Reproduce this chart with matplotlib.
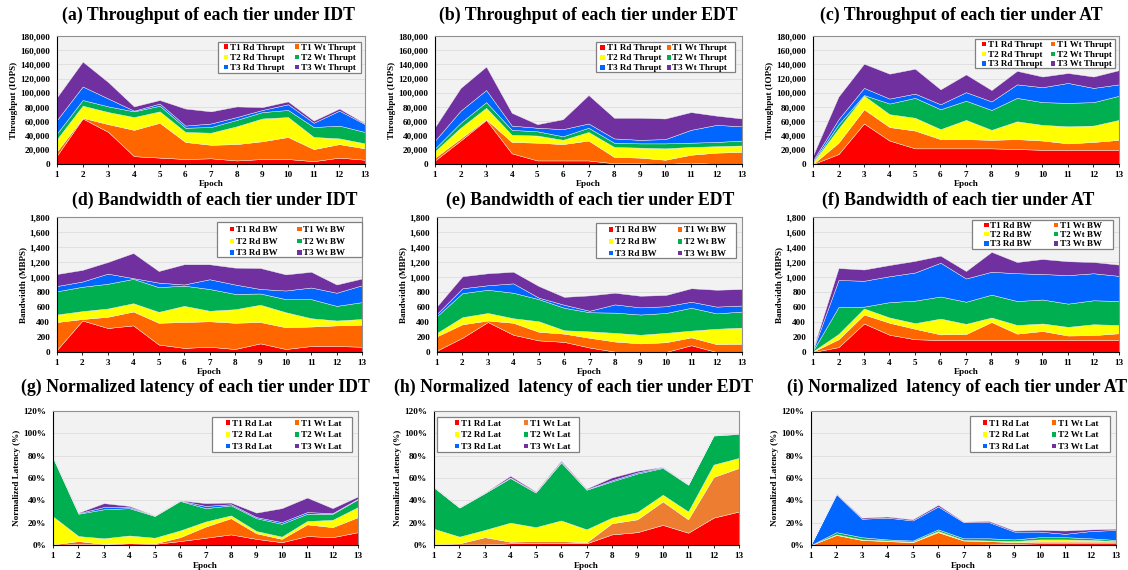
import matplotlib
matplotlib.use("Agg")
import matplotlib.pyplot as plt
import matplotlib.ticker as mticker
from matplotlib.patches import Rectangle
import numpy as np

epochs = list(range(1, 14))

# ---------------- (a) Throughput IDT (IOPS) ----------------
a_t1_rd = [12000, 64000, 45000, 11000, 9000, 7000, 8000, 5000, 7000, 7000, 4000, 9000, 6000]
a_t1_wt = [6000, 1000, 11000, 37000, 49000, 24000, 19000, 23000, 25000, 31000, 17000, 19000, 16000]
a_t2_rd = [17000, 17000, 17000, 18000, 16000, 14000, 17000, 25000, 32000, 28000, 17000, 8000, 7000]
a_t2_wt = [8000, 8000, 8000, 8000, 8000, 6000, 8000, 9000, 9000, 10000, 14000, 18000, 16000]
a_t3_rd = [19000, 19000, 11000, 1000, 3000, 3000, 5000, 4000, 3000, 8000, 6000, 21000, 11000]
a_t3_wt = [32000, 35000, 23000, 6000, 5000, 24000, 17000, 15000, 4000, 4000, 3000, 3000, 1000]

# ---------------- (b) Throughput EDT ----------------
b_t1_rd = [5000, 33000, 62000, 15000, 5000, 5000, 5000, 1000, 1000, 0, 2000, 0, 0]
b_t1_wt = [4000, 3000, 1000, 16000, 25000, 23000, 28000, 9000, 8000, 6000, 11000, 16000, 17000]
b_t2_rd = [9000, 15000, 16000, 10000, 10000, 6000, 12000, 14000, 14000, 16000, 11000, 9000, 9000]
b_t2_wt = [4000, 7000, 8000, 7000, 6000, 5000, 6000, 6000, 6000, 7000, 6000, 6000, 7000]
b_t3_rd = [11000, 17000, 17000, 6000, 5000, 10000, 6000, 6000, 5000, 6000, 18000, 24000, 20000]
b_t3_wt = [19000, 32000, 33000, 18000, 5000, 14000, 40000, 29000, 31000, 29000, 25000, 13000, 11000]

# ---------------- (c) Throughput AT ----------------
c_t1_rd = [0, 14000, 57000, 33000, 22000, 22000, 22000, 22000, 21000, 20000, 20000, 20000, 20000]
c_t1_wt = [0, 16000, 20000, 19000, 25000, 13000, 13000, 12000, 14000, 13000, 9000, 11000, 14000]
c_t2_rd = [2000, 20000, 19000, 18000, 18000, 14000, 27000, 14000, 25000, 22000, 24000, 23000, 28000]
c_t2_wt = [1000, 6000, 1000, 15000, 28000, 28000, 27000, 28000, 33000, 32000, 33000, 33000, 34000]
c_t3_rd = [2000, 7000, 10000, 7000, 6000, 7000, 12000, 12000, 19000, 21000, 28000, 20000, 16000]
c_t3_wt = [7000, 32000, 34000, 35000, 35000, 21000, 25000, 16000, 19000, 15000, 14000, 16000, 20000]

# ---------------- (d) Bandwidth IDT (MBPS) ----------------
d_t1_rd = [30, 420, 320, 355, 100, 55, 70, 40, 115, 40, 80, 80, 70]
d_t1_wt = [370, 20, 150, 185, 290, 345, 340, 350, 285, 290, 260, 275, 295]
d_t2_rd = [100, 105, 110, 110, 145, 215, 140, 180, 230, 200, 110, 65, 75]
d_t2_wt = [310, 325, 330, 325, 330, 270, 290, 205, 150, 175, 255, 195, 225]
d_t3_rd = [70, 70, 135, 10, 60, 15, 130, 125, 60, 115, 155, 175, 225]
d_t3_wt = [160, 155, 155, 335, 155, 270, 200, 225, 280, 215, 210, 110, 90]

# ---------------- (e) Bandwidth EDT ----------------
e_t1_rd = [20, 190, 400, 230, 155, 135, 60, 5, 0, 0, 90, 0, 0]
e_t1_wt = [190, 180, 20, 160, 115, 110, 130, 135, 115, 130, 105, 105, 110]
e_t2_rd = [45, 95, 100, 60, 140, 45, 85, 115, 115, 125, 90, 205, 215]
e_t2_wt = [225, 320, 310, 340, 295, 300, 255, 270, 270, 265, 305, 205, 215]
e_t3_rd = [30, 65, 60, 125, 20, 40, 20, 110, 95, 90, 80, 90, 80]
e_t3_wt = [100, 160, 160, 155, 155, 105, 205, 155, 155, 150, 180, 225, 220]

# ---------------- (f) Bandwidth AT ----------------
f_t1_rd = [0, 65, 380, 230, 170, 160, 160, 160, 160, 160, 160, 160, 160]
f_t1_wt = [5, 105, 120, 160, 140, 75, 80, 240, 85, 120, 60, 65, 90]
f_t2_rd = [5, 70, 80, 70, 75, 210, 135, 60, 115, 100, 115, 145, 110]
f_t2_wt = [10, 360, 25, 205, 300, 295, 295, 305, 320, 320, 310, 320, 320]
f_t3_rd = [10, 360, 345, 345, 375, 450, 310, 305, 370, 340, 380, 360, 335]
f_t3_wt = [10, 160, 150, 150, 155, 95, 100, 265, 150, 200, 185, 150, 150]

# ---------------- (g) Normalized latency IDT (%) ----------------
g_t1_rd = [0, 1, 0.5, 1.5, 1, 3.5, 6.5, 9.5, 5.5, 2.5, 8, 7, 11.5]
g_t1_wt = [0.5, 2.5, 0.5, 0.5, 0.5, 3.5, 10, 14.5, 5, 3, 10.5, 9, 13.5]
g_t2_rd = [25, 4.5, 5, 6.5, 5, 6, 4.5, 2.5, 2, 2, 3, 6.5, 9]
g_t2_wt = [52.5, 20, 26, 24.5, 19.5, 26.5, 12, 9, 11.5, 11.5, 6.5, 5.5, 7]
g_t3_rd = [0.5, 0.5, 2, 1, 0.2, 0.2, 2, 1, 1, 1.5, 1.5, 0.5, 0.5]
g_t3_wt = [0.5, 0.5, 3.5, 1, 0.3, 0.3, 2.5, 1.5, 4, 12.5, 13, 4.5, 2]

# ---------------- (h) Normalized latency EDT ----------------
h_t1_rd = [0, 0.5, 0.5, 1.5, 2, 2, 1.5, 9.5, 11.5, 18, 11, 24.5, 30]
h_t1_wt = [0.5, 1, 6.5, 1.5, 1.5, 1.5, 1, 10, 11.5, 21, 12, 36.5, 39]
h_t2_rd = [14, 6, 6.5, 17, 12.5, 18.5, 11.5, 5, 6.5, 6, 7, 11, 9]
h_t2_wt = [37, 26, 33, 40, 31, 52, 35.5, 32.5, 34.5, 24, 24, 26, 21.5]
h_t3_rd = [0.2, 0.2, 0.2, 0.5, 0.3, 0.5, 0.3, 1, 1, 0.7, 0.2, 0.3, 0.2]
h_t3_wt = [0.3, 0.3, 0.3, 1.5, 0.7, 1, 0.7, 2.5, 1.5, 0.3, 0.3, 0.2, 0.3]

# ---------------- (i) Normalized latency AT ----------------
i_t1_rd = [0, 0, 0, 0, 0, 0, 0, 0.5, 1, 1.5, 1.5, 1.5, 1.5]
i_t1_wt = [0, 9, 4.5, 3.5, 2.5, 11.5, 4, 3, 1.5, 1.5, 1.5, 1.5, 1.5]
i_t2_rd = [0, 0.5, 0.5, 0.5, 0.5, 1, 0.5, 0.5, 1, 2, 2, 1.5, 0.5]
i_t2_wt = [0, 2, 2, 1, 1, 1.5, 1.5, 2, 1.5, 2, 2, 1.5, 1]
i_t3_rd = [0.5, 34, 16.5, 19.5, 18, 20.5, 14.5, 14.5, 7, 5, 3, 6.5, 9]
i_t3_wt = [0, 0.5, 1, 1, 1, 1.5, 0.5, 1, 1, 1.5, 3, 1.5, 1]

titles = [
    "(a) Throughput of each tier under IDT",
    "(b) Throughput of each tier under EDT",
    "(c) Throughput of each tier under AT",
    "(d) Bandwidth of each tier under IDT",
    "(e) Bandwidth of each tier under EDT",
    "(f) Bandwidth of each tier under AT",
    "(g) Normalized latency of each tier under IDT",
    "(h) Normalized  latency of each tier under EDT",
    "(i) Normalized  latency of each tier under AT",
]
thr_labels = ["T1 Rd Thrupt", "T1 Wt Thrupt", "T2 Rd Thrupt", "T2 Wt Thrupt", "T3 Rd Thrupt", "T3 Wt Thrupt"]
bw_labels = ["T1 Rd BW", "T1 Wt BW", "T2 Rd BW", "T2 Wt BW", "T3 Rd BW", "T3 Wt BW"]
lat_labels = ["T1 Rd Lat", "T1 Wt Lat", "T2 Rd Lat", "T2 Wt Lat", "T3 Rd Lat", "T3 Wt Lat"]

colors = ["#FF0000", "#FF6600", "#FFFF00", "#00B050", "#0066FF", "#7030A0"]
colors_h = ["#FF0000", "#ED7D31", "#FFFF00", "#00B050", "#0066FF", "#7030A0"]

panels = [
    [a_t1_rd, a_t1_wt, a_t2_rd, a_t2_wt, a_t3_rd, a_t3_wt],
    [b_t1_rd, b_t1_wt, b_t2_rd, b_t2_wt, b_t3_rd, b_t3_wt],
    [c_t1_rd, c_t1_wt, c_t2_rd, c_t2_wt, c_t3_rd, c_t3_wt],
    [d_t1_rd, d_t1_wt, d_t2_rd, d_t2_wt, d_t3_rd, d_t3_wt],
    [e_t1_rd, e_t1_wt, e_t2_rd, e_t2_wt, e_t3_rd, e_t3_wt],
    [f_t1_rd, f_t1_wt, f_t2_rd, f_t2_wt, f_t3_rd, f_t3_wt],
    [g_t1_rd, g_t1_wt, g_t2_rd, g_t2_wt, g_t3_rd, g_t3_wt],
    [h_t1_rd, h_t1_wt, h_t2_rd, h_t2_wt, h_t3_rd, h_t3_wt],
    [i_t1_rd, i_t1_wt, i_t2_rd, i_t2_wt, i_t3_rd, i_t3_wt],
]

plt.rcParams['font.family'] = ['Liberation Serif', 'DejaVu Serif']
plt.rcParams['font.weight'] = 'bold'

W, H = 1128, 570
fig = plt.figure(figsize=(W / 100, H / 100), dpi=100)


def fx(x):
    return x / W


def fy(y):
    return 1 - y / H


# axes boxes in pixels: (left, right, top, bottom)
boxes = [
    (57, 365, 36, 164), (435, 742, 36, 164), (813, 1119, 36, 164),
    (57, 362, 217, 352), (437, 742, 217, 352), (813, 1119, 217, 352),
    (53, 358, 411, 545), (434, 739, 411, 545), (811, 1116, 411, 545),
]
title_pos = [(208, 15), (588, 15), (961, 15),
             (215, 200), (590, 200), (958, 200),
             (195, 387), (574, 387), (957, 387)]
# legend layout in pixels: box (left, right, top, bottom), row centres,
# marker x offsets (col1, col2), text x offsets (col1, col2)
legend_layout = [
    ((218, 361, 42, 72.5), (46.5, 56.8, 67.0), (8, 79), (12.5, 83)),
    ((596, 735, 41.7, 72.3), (47.3, 57.3, 67.3), (6.7, 73), (10.8, 76.5)),
    ((975, 1115, 39, 68.3), (44, 54, 63.5), (9, 78), (13.2, 82.2)),
    ((217, 362, 222.3, 256.7), (229, 241, 252.5), (15, 82.3), (19, 86.3)),
    ((596, 736, 223, 258), (229.5, 241.3, 253), (15, 84), (19, 88)),
    ((972, 1113, 220, 249), (224.8, 234, 243.3), (14.3, 84), (18.3, 88)),
    ((212, 352, 416.7, 452.3), (422.7, 434.3, 446), (16, 85), (20, 89)),
    ((437, 579, 417, 452.3), (422.7, 434.3, 446), (20, 89), (24, 93)),
    ((970, 1110, 416, 452), (422.7, 434.3, 446), (15, 84), (19, 88)),
]

for k in range(9):
    l, r, t, b = boxes[k]
    ax = fig.add_axes([fx(l), fy(b), (r - l) / W, (b - t) / H])
    ax.set_facecolor("#F2F2F2")
    cols = colors_h if k == 7 else colors
    row = k // 3
    if row == 0:
        labels = thr_labels
    elif row == 1:
        labels = bw_labels
    else:
        labels = lat_labels
    data = panels[k]
    if row == 2:
        data = [[v / 100.0 for v in s] for s in data]
    ax.stackplot(epochs, *data, colors=cols, labels=labels, linewidth=0.3, edgecolor="#F2F2F2")
    ax.set_xlim(1, 13)
    ax.set_xticks(epochs)
    if row == 0:
        ax.set_ylim(0, 180000)
        ax.set_yticks(np.arange(0, 180001, 20000))
        ax.yaxis.set_major_formatter(mticker.FuncFormatter(lambda v, p: f"{int(v):,}"))
        ax.set_ylabel("Throughput (IOPS)", fontsize=6.6, fontweight='bold', labelpad=1.5)
    elif row == 1:
        ax.set_ylim(0, 1800)
        ax.set_yticks(np.arange(0, 1801, 200))
        ax.yaxis.set_major_formatter(mticker.FuncFormatter(lambda v, p: f"{int(v):,}"))
        ax.set_ylabel("Bandwidth (MBPS)", fontsize=6.6, fontweight='bold', labelpad=1.5)
    else:
        ax.set_ylim(0, 1.2)
        ax.set_yticks(np.arange(0, 1.21, 0.2))
        ax.yaxis.set_major_formatter(mticker.FuncFormatter(lambda v, p: f"{int(round(v * 100))}%"))
        ax.set_ylabel("Normalized Latency (%)", fontsize=6.6, fontweight='bold', labelpad=1.5)
    ax.set_xlabel("Epoch", fontsize=6.6, fontweight='bold')
    ax.xaxis.set_label_coords(0.5, -16.5 / (b - t))
    ax.grid(axis='y', color="#DDDDDD", linewidth=0.6)
    ax.set_axisbelow(True)
    ax.tick_params(axis='x', labelsize=6.6, length=2, width=0.6, pad=3.2)
    ax.tick_params(axis='y', labelsize=6.6, length=0, pad=5)
    for lbl in ax.get_xticklabels() + ax.get_yticklabels():
        lbl.set_fontweight('bold')
    ax.spines['top'].set_color("#909090")
    ax.spines['right'].set_color("#909090")
    ax.spines['left'].set_color("#000000")
    ax.spines['bottom'].set_color("#000000")
    for sp in ax.spines.values():
        sp.set_linewidth(0.8)

    # legend box drawn row-wise (two columns)
    (bl, br, bt, bb), rows_y, mk_x, tx_x = legend_layout[k]
    fig.add_artist(Rectangle((fx(bl), fy(bb)), (br - bl) / W, (bb - bt) / H,
                             transform=fig.transFigure, facecolor="white",
                             edgecolor="#808080", linewidth=0.9, zorder=10))
    sq = 4.6
    for s in range(6):
        rr, cc = s // 2, s % 2
        yc = rows_y[rr]
        mx = bl + mk_x[cc]
        fig.add_artist(Rectangle((fx(mx - sq / 2), fy(yc + sq / 2)), sq / W, sq / H,
                                 transform=fig.transFigure, facecolor=cols[s],
                                 edgecolor='none', zorder=11))
        fig.text(fx(bl + tx_x[cc]), fy(yc), labels[s], ha='left', va='center_baseline',
                 fontsize=6.5, fontweight='bold', zorder=12)

    tx, ty = title_pos[k]
    fig.text(fx(tx), fy(ty), titles[k], ha='center', va='center',
             fontsize=12.8, fontweight='bold')

fig.savefig("out.png", dpi=100)
